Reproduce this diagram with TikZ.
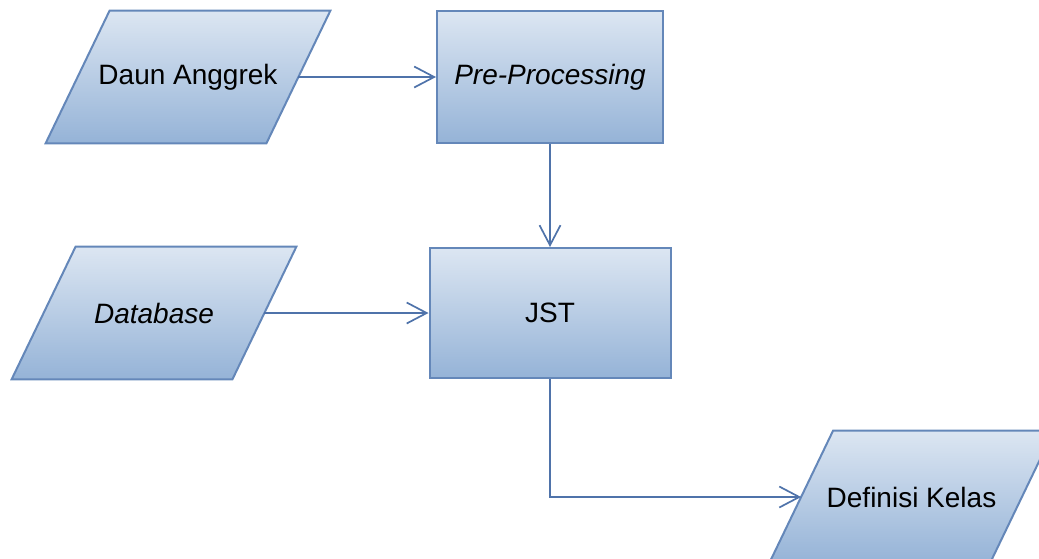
\documentclass[tikz,border=0pt]{standalone}
\usepackage{fontspec}
\setmainfont{Liberation Sans}
\usetikzlibrary{arrows.meta,backgrounds}

\definecolor{boxtop}{RGB}{220,230,242}
\definecolor{boxbottom}{RGB}{149,179,215}
\definecolor{boxline}{RGB}{100,135,185}
\definecolor{flowline}{RGB}{79,115,170}

\begin{document}
\begin{tikzpicture}[x=0.5pt,y=-0.5pt,
  isi/.style={draw=boxline, line width=1pt,
    top color=boxtop, bottom color=boxbottom},
  proses/.style={rectangle, isi,
    minimum width=113pt, minimum height=66pt,
    font=\fontsize{14}{16}\selectfont},
  data/.style={rectangle, minimum width=110pt, minimum height=66pt,
    font=\fontsize{14}{16}\selectfont},
  alir/.style={draw=flowline, line width=0.85pt,
    -{Straight Barb[length=10pt,width=10.5pt]}}]
\def\jajar#1{\shade[isi] ([xshift=-16pt]#1.south west) -- ([xshift=-16pt]#1.south east)
   -- ([xshift=16pt]#1.north east) -- ([xshift=16pt]#1.north west) -- cycle;}

\clip (0,0) rectangle (1039,558);

% input / output
\node[data] (daun) at (188,77) {Daun Anggrek};
\node[data] (db) at (154,313) {\itshape Database};
\node[data] (kelas) at (911.5,497) {Definisi Kelas};

\begin{scope}[on background layer]
\jajar{daun}
\jajar{db}
\jajar{kelas}
\end{scope}

% proses
\node[proses] (pre) at (550,77) {\itshape Pre-Processing};
\node[proses, minimum width=120.5pt, minimum height=65pt] (jst) at (550,313) {JST};

% alur
\draw[alir] (daun.east) -- (pre.west);
\draw[alir] (pre.south) -- (jst.north);
\draw[alir] (db.east) -- (jst.west);
\draw[alir] (jst.south) |- (kelas.west);

\end{tikzpicture}
\end{document}
